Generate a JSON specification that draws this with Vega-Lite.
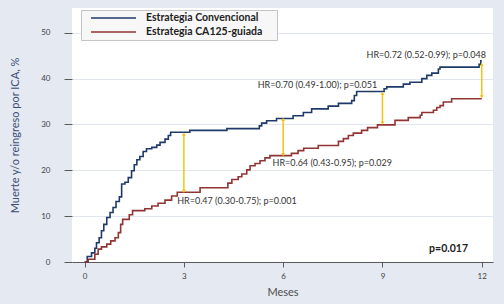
{
  "$schema": "https://vega.github.io/schema/vega-lite/v6.json",
  "width": 421,
  "height": 254,
  "autosize": "none",
  "padding": {"left": 72, "top": 8, "right": 11, "bottom": 42},
  "background": "#e4e9f2",
  "config": {
    "font": "Lato",
    "view": {"fill": "#ffffff", "stroke": null}
  },
  "datasets": {
    "curves": [
      {"grupo": "Estrategia Convencional", "mes": 0, "pct": 0},
      {"grupo": "Estrategia Convencional", "mes": 0.08, "pct": 1.2},
      {"grupo": "Estrategia Convencional", "mes": 0.21, "pct": 2.0},
      {"grupo": "Estrategia Convencional", "mes": 0.31, "pct": 3.0},
      {"grupo": "Estrategia Convencional", "mes": 0.36, "pct": 4.2},
      {"grupo": "Estrategia Convencional", "mes": 0.44, "pct": 5.3},
      {"grupo": "Estrategia Convencional", "mes": 0.51, "pct": 6.8},
      {"grupo": "Estrategia Convencional", "mes": 0.58, "pct": 8.2},
      {"grupo": "Estrategia Convencional", "mes": 0.67, "pct": 9.7},
      {"grupo": "Estrategia Convencional", "mes": 0.77, "pct": 10.8},
      {"grupo": "Estrategia Convencional", "mes": 0.86, "pct": 11.9},
      {"grupo": "Estrategia Convencional", "mes": 0.95, "pct": 13.2},
      {"grupo": "Estrategia Convencional", "mes": 1.05, "pct": 14.2},
      {"grupo": "Estrategia Convencional", "mes": 1.12, "pct": 17.0},
      {"grupo": "Estrategia Convencional", "mes": 1.22, "pct": 17.4},
      {"grupo": "Estrategia Convencional", "mes": 1.32, "pct": 18.4},
      {"grupo": "Estrategia Convencional", "mes": 1.42, "pct": 19.9},
      {"grupo": "Estrategia Convencional", "mes": 1.5, "pct": 21.2},
      {"grupo": "Estrategia Convencional", "mes": 1.58, "pct": 22.3},
      {"grupo": "Estrategia Convencional", "mes": 1.67, "pct": 23.0},
      {"grupo": "Estrategia Convencional", "mes": 1.77, "pct": 24.1},
      {"grupo": "Estrategia Convencional", "mes": 1.87, "pct": 24.7},
      {"grupo": "Estrategia Convencional", "mes": 2.03, "pct": 25.0},
      {"grupo": "Estrategia Convencional", "mes": 2.18, "pct": 25.5},
      {"grupo": "Estrategia Convencional", "mes": 2.28, "pct": 26.1},
      {"grupo": "Estrategia Convencional", "mes": 2.43, "pct": 26.8},
      {"grupo": "Estrategia Convencional", "mes": 2.53, "pct": 27.6},
      {"grupo": "Estrategia Convencional", "mes": 2.6, "pct": 28.3},
      {"grupo": "Estrategia Convencional", "mes": 3.18, "pct": 28.7},
      {"grupo": "Estrategia Convencional", "mes": 4.3, "pct": 29.1},
      {"grupo": "Estrategia Convencional", "mes": 5.28, "pct": 29.7},
      {"grupo": "Estrategia Convencional", "mes": 5.35, "pct": 30.3},
      {"grupo": "Estrategia Convencional", "mes": 5.5, "pct": 30.8},
      {"grupo": "Estrategia Convencional", "mes": 5.8, "pct": 31.3},
      {"grupo": "Estrategia Convencional", "mes": 6.3, "pct": 31.9},
      {"grupo": "Estrategia Convencional", "mes": 6.61, "pct": 32.6},
      {"grupo": "Estrategia Convencional", "mes": 6.86, "pct": 33.4},
      {"grupo": "Estrategia Convencional", "mes": 7.36, "pct": 34.0},
      {"grupo": "Estrategia Convencional", "mes": 7.67, "pct": 34.6},
      {"grupo": "Estrategia Convencional", "mes": 8.07, "pct": 35.2},
      {"grupo": "Estrategia Convencional", "mes": 8.15, "pct": 36.3},
      {"grupo": "Estrategia Convencional", "mes": 8.22, "pct": 37.2},
      {"grupo": "Estrategia Convencional", "mes": 9.05, "pct": 37.8},
      {"grupo": "Estrategia Convencional", "mes": 9.13, "pct": 38.2},
      {"grupo": "Estrategia Convencional", "mes": 9.63, "pct": 38.8},
      {"grupo": "Estrategia Convencional", "mes": 9.83, "pct": 39.2},
      {"grupo": "Estrategia Convencional", "mes": 10.19, "pct": 40.0},
      {"grupo": "Estrategia Convencional", "mes": 10.34, "pct": 40.7},
      {"grupo": "Estrategia Convencional", "mes": 10.49, "pct": 41.2},
      {"grupo": "Estrategia Convencional", "mes": 10.69, "pct": 42.1},
      {"grupo": "Estrategia Convencional", "mes": 10.74, "pct": 42.5},
      {"grupo": "Estrategia Convencional", "mes": 11.92, "pct": 43.1},
      {"grupo": "Estrategia Convencional", "mes": 11.97, "pct": 43.9},
      {"grupo": "Estrategia Convencional", "mes": 12.0, "pct": 43.9},
      {"grupo": "Estrategia CA125-guiada", "mes": 0, "pct": 0},
      {"grupo": "Estrategia CA125-guiada", "mes": 0.11, "pct": 0.6},
      {"grupo": "Estrategia CA125-guiada", "mes": 0.31, "pct": 1.7},
      {"grupo": "Estrategia CA125-guiada", "mes": 0.41, "pct": 2.8},
      {"grupo": "Estrategia CA125-guiada", "mes": 0.51, "pct": 3.3},
      {"grupo": "Estrategia CA125-guiada", "mes": 0.67, "pct": 3.9},
      {"grupo": "Estrategia CA125-guiada", "mes": 0.79, "pct": 4.6},
      {"grupo": "Estrategia CA125-guiada", "mes": 0.92, "pct": 5.3},
      {"grupo": "Estrategia CA125-guiada", "mes": 1.02, "pct": 6.4},
      {"grupo": "Estrategia CA125-guiada", "mes": 1.09, "pct": 8.2},
      {"grupo": "Estrategia CA125-guiada", "mes": 1.15, "pct": 9.3},
      {"grupo": "Estrategia CA125-guiada", "mes": 1.35, "pct": 10.3},
      {"grupo": "Estrategia CA125-guiada", "mes": 1.45, "pct": 11.2},
      {"grupo": "Estrategia CA125-guiada", "mes": 1.82, "pct": 11.6},
      {"grupo": "Estrategia CA125-guiada", "mes": 2.03, "pct": 12.2},
      {"grupo": "Estrategia CA125-guiada", "mes": 2.22, "pct": 12.8},
      {"grupo": "Estrategia CA125-guiada", "mes": 2.43, "pct": 13.5},
      {"grupo": "Estrategia CA125-guiada", "mes": 2.63, "pct": 14.4},
      {"grupo": "Estrategia CA125-guiada", "mes": 2.8, "pct": 15.2},
      {"grupo": "Estrategia CA125-guiada", "mes": 3.49, "pct": 16.2},
      {"grupo": "Estrategia CA125-guiada", "mes": 4.33, "pct": 17.2},
      {"grupo": "Estrategia CA125-guiada", "mes": 4.45, "pct": 18.0},
      {"grupo": "Estrategia CA125-guiada", "mes": 4.64, "pct": 18.6},
      {"grupo": "Estrategia CA125-guiada", "mes": 4.75, "pct": 19.2},
      {"grupo": "Estrategia CA125-guiada", "mes": 4.9, "pct": 20.1},
      {"grupo": "Estrategia CA125-guiada", "mes": 5.0, "pct": 21.0},
      {"grupo": "Estrategia CA125-guiada", "mes": 5.15, "pct": 21.5},
      {"grupo": "Estrategia CA125-guiada", "mes": 5.3, "pct": 22.1},
      {"grupo": "Estrategia CA125-guiada", "mes": 5.45, "pct": 22.7},
      {"grupo": "Estrategia CA125-guiada", "mes": 5.6, "pct": 23.2},
      {"grupo": "Estrategia CA125-guiada", "mes": 6.25, "pct": 23.7},
      {"grupo": "Estrategia CA125-guiada", "mes": 6.45, "pct": 24.3},
      {"grupo": "Estrategia CA125-guiada", "mes": 6.62, "pct": 24.8},
      {"grupo": "Estrategia CA125-guiada", "mes": 7.06, "pct": 25.4},
      {"grupo": "Estrategia CA125-guiada", "mes": 7.67, "pct": 26.3},
      {"grupo": "Estrategia CA125-guiada", "mes": 7.82, "pct": 26.9},
      {"grupo": "Estrategia CA125-guiada", "mes": 7.97, "pct": 27.6},
      {"grupo": "Estrategia CA125-guiada", "mes": 8.12, "pct": 28.1},
      {"grupo": "Estrategia CA125-guiada", "mes": 8.37, "pct": 28.7},
      {"grupo": "Estrategia CA125-guiada", "mes": 8.55, "pct": 29.3},
      {"grupo": "Estrategia CA125-guiada", "mes": 8.85, "pct": 29.9},
      {"grupo": "Estrategia CA125-guiada", "mes": 9.38, "pct": 30.9},
      {"grupo": "Estrategia CA125-guiada", "mes": 9.78, "pct": 31.5},
      {"grupo": "Estrategia CA125-guiada", "mes": 10.14, "pct": 32.0},
      {"grupo": "Estrategia CA125-guiada", "mes": 10.19, "pct": 32.6},
      {"grupo": "Estrategia CA125-guiada", "mes": 10.54, "pct": 33.1},
      {"grupo": "Estrategia CA125-guiada", "mes": 10.64, "pct": 33.7},
      {"grupo": "Estrategia CA125-guiada", "mes": 10.74, "pct": 34.1},
      {"grupo": "Estrategia CA125-guiada", "mes": 10.84, "pct": 34.9},
      {"grupo": "Estrategia CA125-guiada", "mes": 11.09, "pct": 35.6},
      {"grupo": "Estrategia CA125-guiada", "mes": 12.0, "pct": 35.6}
    ],
    "arrows": [
      {"mes": 3, "top": 27.9, "bottom": 15.4},
      {"mes": 6, "top": 31.1, "bottom": 23.4},
      {"mes": 9, "top": 36.8, "bottom": 30.3},
      {"mes": 12, "top": 43.1, "bottom": 36.0}
    ],
    "notes": [
      {"mes": 2.8, "pct": 13.2, "label": "HR=0.47 (0.30-0.75); p=0.001"},
      {"mes": 5.68, "pct": 21.5, "label": "HR=0.64 (0.43-0.95); p=0.029"},
      {"mes": 5.23, "pct": 38.7, "label": "HR=0.70 (0.49-1.00); p=0.051"},
      {"mes": 8.52, "pct": 45.2, "label": "HR=0.72 (0.52-0.99); p=0.048"}
    ],
    "pval": [
      {"mes": 10.41, "pct": 2.8, "label": "p=0.017"}
    ]
  },
  "encoding": {
    "x": {
      "field": "mes", "type": "quantitative",
      "scale": {"domain": [-0.38, 12.34], "nice": false, "zero": false},
      "axis": {
        "title": "Meses", "values": [0, 3, 6, 9, 12], "grid": false,
        "domainColor": "#5a5a5a", "tickColor": "#5a5a5a", "tickSize": 5,
        "labelFontSize": 8, "labelColor": "#444444", "labelPadding": 5,
        "titleFontSize": 11, "titleFontWeight": "normal", "titleColor": "#4d4d4d", "titlePadding": 6
      }
    },
    "y": {
      "field": "pct", "type": "quantitative",
      "scale": {"domain": [0, 55.4], "nice": false},
      "axis": {
        "title": "Muerte y/o reingreso por ICA, %", "values": [0, 10, 20, 30, 40, 50],
        "domain": false, "grid": true, "gridColor": "#e1e6ef", "gridWidth": 1,
        "tickColor": "#5a5a5a", "tickSize": 8,
        "labelFontSize": 8, "labelColor": "#444444", "labelPadding": 14,
        "titleFontSize": 11, "titleFontWeight": "normal", "titleColor": "#3e4f74", "titlePadding": 20
      }
    }
  },
  "layer": [
    {
      "data": {"name": "curves"},
      "mark": {"type": "line", "interpolate": "step-after", "strokeWidth": 1.6},
      "encoding": {
        "color": {
          "field": "grupo", "type": "nominal",
          "scale": {"domain": ["Estrategia Convencional", "Estrategia CA125-guiada"], "range": ["#1f3a68", "#923434"]},
          "legend": {
            "orient": "none", "legendX": 9, "legendY": 2,
            "title": "\u2003", "titleOrient": "right", "titlePadding": 14, "titleFontSize": 10,
            "symbolType": "stroke", "symbolSize": 2025, "symbolStrokeWidth": 1.6,
            "labelFontSize": 10.5, "labelFontWeight": "bold", "labelColor": "#222222",
            "fillColor": "#f7f7f7", "strokeColor": "#c4c4c4",
            "padding": 1, "clipHeight": 14, "rowPadding": 0, "symbolOffset": 8, "labelOffset": 9
          }
        }
      }
    },
    {
      "data": {"name": "arrows"},
      "mark": {"type": "rule", "color": "#f5c211", "strokeWidth": 1.5},
      "encoding": {"y": {"field": "top", "type": "quantitative"}, "y2": {"field": "bottom"}}
    },
    {
      "data": {"name": "arrows"},
      "mark": {"type": "point", "shape": "triangle-up", "filled": true, "color": "#f5c211", "size": 14, "opacity": 1},
      "encoding": {"y": {"field": "top", "type": "quantitative"}}
    },
    {
      "data": {"name": "arrows"},
      "mark": {"type": "point", "shape": "triangle-down", "filled": true, "color": "#f5c211", "size": 14, "opacity": 1},
      "encoding": {"y": {"field": "bottom", "type": "quantitative"}}
    },
    {
      "data": {"name": "notes"},
      "mark": {"type": "text", "align": "left", "baseline": "middle", "fontSize": 9, "color": "#333333"},
      "encoding": {"text": {"field": "label"}}
    },
    {
      "data": {"name": "pval"},
      "mark": {"type": "text", "align": "left", "baseline": "middle", "fontSize": 10.5, "fontWeight": "bold", "color": "#222222"},
      "encoding": {"text": {"field": "label"}}
    }
  ]
}
